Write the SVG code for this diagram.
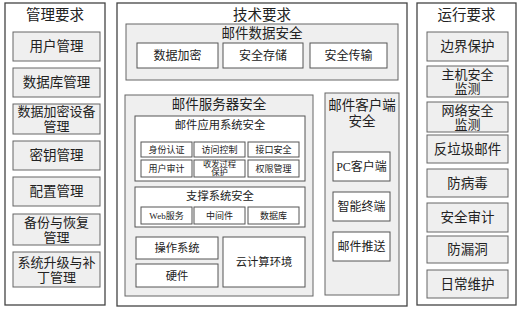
<svg xmlns="http://www.w3.org/2000/svg" width="522" height="310" viewBox="0 0 522 310">
<style>
text{font-family:"Liberation Serif","Noto Sans CJK SC",serif;fill:#222;text-anchor:middle;dominant-baseline:central}
.panel{fill:#fff;stroke:#444;stroke-width:1.3}
.g{fill:#efefef;stroke:#666;stroke-width:1}
.w{fill:#fff;stroke:#555;stroke-width:1}
.t1{font-size:14.5px}
.t2{font-size:13.5px}
.t2s{font-size:13px}
.t3{font-size:12px}
.t4{font-size:11.3px}
.t5{font-size:9px}
.t6{font-size:8.3px}
</style>
<g id="mgmt">
<rect class="panel" x="5" y="3" width="100" height="302"/>
<text class="t1" x="55" y="15">管理要求</text>
<rect class="g" x="13" y="32" width="87" height="29"/><text class="t2" x="56.5" y="46.5">用户管理</text>
<rect class="g" x="13" y="68" width="87" height="29"/><text class="t2" x="56.5" y="82.5">数据库管理</text>
<rect class="g" x="13" y="104" width="87" height="30"/><text class="t2s" x="56.5" y="111.5">数据加密设备</text><text class="t2s" x="56.5" y="126">管理</text>
<rect class="g" x="13" y="141" width="87" height="29"/><text class="t2" x="56.5" y="155.5">密钥管理</text>
<rect class="g" x="13" y="177" width="87" height="29"/><text class="t2" x="56.5" y="191.5">配置管理</text>
<rect class="g" x="13" y="214" width="87" height="31"/><text class="t2s" x="56.5" y="222">备份与恢复</text><text class="t2s" x="56.5" y="237">管理</text>
<rect class="g" x="13" y="252" width="87" height="35"/><text class="t2s" x="56.5" y="262">系统升级与补</text><text class="t2s" x="56.5" y="277">丁管理</text>
</g>
<g id="tech">
<rect class="panel" x="117" y="3" width="290" height="303"/>
<text class="t1" x="262" y="15">技术要求</text>
</g>
<g id="maildata">
<rect class="g" x="126" y="24" width="272" height="56"/>
<text class="t2" x="262" y="33">邮件数据安全</text>
<rect class="w" x="137" y="43" width="81" height="25"/><text class="t3" x="177.5" y="55.5">数据加密</text>
<rect class="w" x="223" y="43" width="80" height="25"/><text class="t3" x="263" y="55.5">安全存储</text>
<rect class="w" x="310" y="43" width="77" height="25"/><text class="t3" x="348.5" y="55.5">安全传输</text>
</g>
<g id="server">
<rect class="g" x="125" y="95" width="188" height="201"/>
<text class="t2" x="219" y="104">邮件服务器安全</text>
</g>
<g id="app">
<rect class="w" x="135" y="116" width="170" height="65"/>
<text class="t4" x="220" y="125">邮件应用系统安全</text>
<rect class="w" x="141" y="142" width="51" height="15"/><text class="t5" x="166.5" y="149.5">身份认证</text>
<rect class="w" x="194" y="142" width="51" height="15"/><text class="t5" x="219.5" y="149.5">访问控制</text>
<rect class="w" x="248" y="142" width="51" height="15"/><text class="t5" x="273.5" y="149.5">接口安全</text>
<rect class="w" x="141" y="160" width="51" height="17"/><text class="t5" x="166.5" y="168.5">用户审计</text>
<rect class="w" x="194" y="160" width="51" height="17"/><text class="t6" x="219.5" y="164.5">收发过程</text><text class="t6" x="219.5" y="172.5">保护</text>
<rect class="w" x="248" y="160" width="51" height="17"/><text class="t5" x="273.5" y="168.5">权限管理</text>
</g>
<g id="support">
<rect class="w" x="135" y="187" width="170" height="40"/>
<text class="t4" x="220" y="196">支撑系统安全</text>
<rect class="w" x="141" y="207" width="51" height="17"/><text class="t5" x="166.5" y="215.5">Web服务</text>
<rect class="w" x="194" y="207" width="51" height="17"/><text class="t5" x="219.5" y="215.5">中间件</text>
<rect class="w" x="248" y="207" width="51" height="17"/><text class="t5" x="273.5" y="215.5">数据库</text>
</g>
<g id="os"><rect class="w" x="136" y="237" width="82" height="22"/><text class="t4" x="177" y="248">操作系统</text></g>
<g id="hw"><rect class="w" x="136" y="264" width="82" height="23"/><text class="t4" x="177" y="275.5">硬件</text></g>
<g id="cloud"><rect class="w" x="223" y="237" width="82" height="50"/><text class="t4" x="264" y="262">云计算环境</text></g>
<g id="client">
<rect class="g" x="325" y="93" width="74" height="202"/>
<text class="t2" x="362" y="105">邮件客户端</text>
<text class="t2" x="362" y="121">安全</text>
<rect class="w" x="333" y="152" width="57" height="29"/><text class="t3" x="361.5" y="166.5">PC客户端</text>
<rect class="w" x="333" y="192" width="57" height="29"/><text class="t3" x="361.5" y="206.5">智能终端</text>
<rect class="w" x="333" y="232" width="57" height="29"/><text class="t3" x="361.5" y="246.5">邮件推送</text>
</g>
<g id="ops">
<rect class="panel" x="417" y="3" width="99" height="302"/>
<text class="t1" x="466.5" y="15">运行要求</text>
<rect class="g" x="427" y="32" width="81" height="29"/><text class="t2" x="467.5" y="46.5">边界保护</text>
<rect class="g" x="427" y="66" width="81" height="31"/><text class="t2s" x="467.5" y="74.5">主机安全</text><text class="t2s" x="467.5" y="88.5">监测</text>
<rect class="g" x="427" y="102" width="81" height="30"/><text class="t2s" x="467.5" y="110">网络安全</text><text class="t2s" x="467.5" y="124">监测</text>
<rect class="g" x="427" y="135" width="81" height="28"/><text class="t2" x="467.5" y="149">反垃圾邮件</text>
<rect class="g" x="427" y="169" width="81" height="28"/><text class="t2" x="467.5" y="183">防病毒</text>
<rect class="g" x="427" y="203" width="81" height="29"/><text class="t2" x="467.5" y="217.5">安全审计</text>
<rect class="g" x="427" y="236" width="81" height="27"/><text class="t2" x="467.5" y="249.5">防漏洞</text>
<rect class="g" x="427" y="270" width="81" height="28"/><text class="t2" x="467.5" y="284">日常维护</text>
</g>
<g id="connectors"></g>
</svg>
